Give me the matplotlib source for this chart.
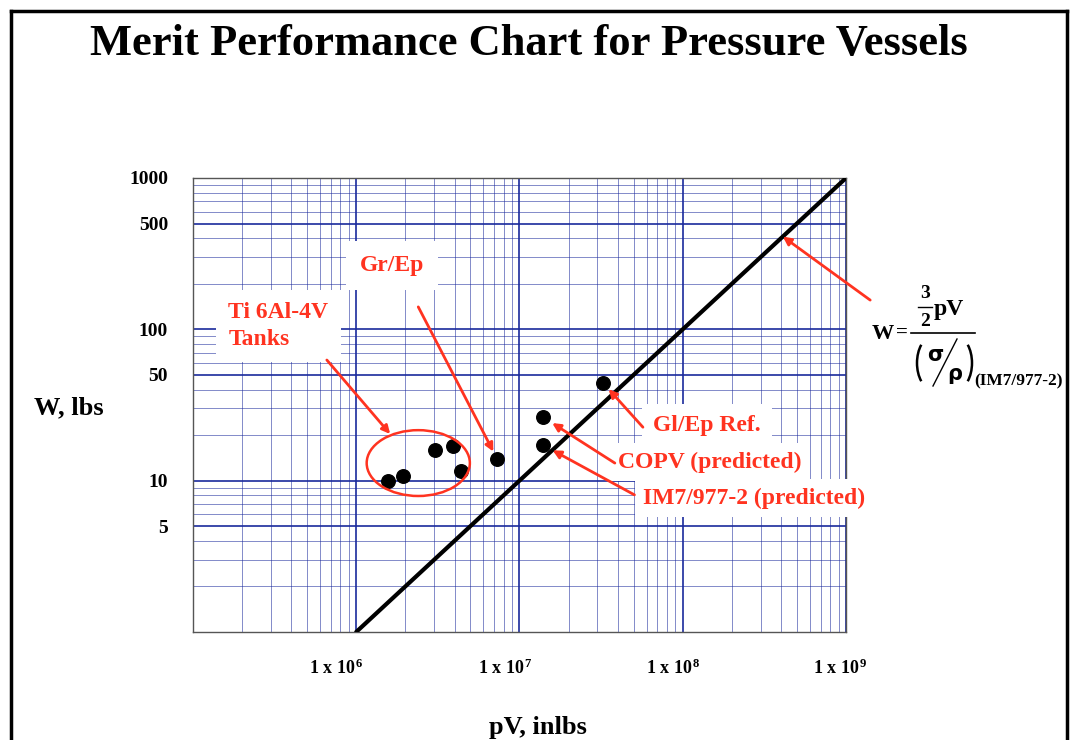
import numpy as np
import matplotlib
matplotlib.use('Agg')
import matplotlib.pyplot as plt
from matplotlib.patches import Ellipse, Arc
from matplotlib.lines import Line2D
from matplotlib.transforms import ScaledTranslation

plt.rcParams['font.family'] = ['Liberation Serif', 'DejaVu Serif']
plt.rcParams['font.weight'] = 'bold'
plt.rcParams['mathtext.fontset'] = 'custom'
plt.rcParams['mathtext.rm'] = 'Liberation Serif:bold'
plt.rcParams['mathtext.it'] = 'Liberation Serif:bold'
plt.rcParams['mathtext.bf'] = 'Liberation Serif:bold'

# data
ti_pv = [1.56e6, 1.93e6, 3.04e6, 3.92e6, 4.38e6]
ti_w = [9.9, 10.7, 15.9, 16.9, 11.6]
grep_pv, grep_w = 7.3e6, 13.9
copv_pv, copv_w = 1.39e7, 26.3
im7_pv, im7_w = 1.39e7, 17.2
glep_pv, glep_w = 3.25e7, 44.2

# merit line  W = 1.5 pV / (sigma/rho)
sigma_rho = 1.5e6
line_pv = np.array([1.0e6, 1.0e9])
line_w = 1.5 * line_pv / sigma_rho
arrow_pv = 4.1e8

xticks = [1e6, 1e7, 1e8, 1e9]
xlabels = [r'$\mathrm{1\ x\ 10^{6}}$', r'$\mathrm{1\ x\ 10^{7}}$',
           r'$\mathrm{1\ x\ 10^{8}}$', r'$\mathrm{1\ x\ 10^{9}}$']
yticks = [5, 10, 50, 100, 500, 1000]

red = '#ff3320'
grid_dark = '#1a2a9c'
grid_light = '#9aa0c8'

fig = plt.figure(figsize=(10.75, 7.4), dpi=100)
ax = fig.add_axes([0.1795, 0.146, 0.6075, 0.6135])
ax.set_xscale('log')
ax.set_yscale('log')
ax.set_xlim(1e5, 1e9)
ax.set_ylim(1, 1000)

ax.grid(True, which='minor', color=grid_light, lw=1.3)
ax.grid(True, which='major', color=grid_dark, lw=1.2)
ax.grid(True, which='minor', axis='both', color=grid_dark, lw=0.7, alpha=0.55)
ax.set_axisbelow(True)
for s in ax.spines.values():
    s.set_color('#555555')
    s.set_linewidth(1)

ax.set_xticks(xticks)
ax.set_xticklabels(xlabels, fontsize=13)
ax.set_yticks(yticks)
ax.set_yticklabels([str(v) for v in yticks], fontsize=14, fontweight='bold')
ax.tick_params(which='both', length=0)
ax.tick_params(axis='x', pad=19)
ax.tick_params(axis='y', pad=18)
# the slide's labels sit a little left of their grid lines
for lab, dx in zip(ax.get_xticklabels(), [-20, -14, -10, -6]):
    lab.set_transform(lab.get_transform() + ScaledTranslation(dx / 100, 0, fig.dpi_scale_trans))

ax.plot(line_pv, line_w, color='black', lw=3, solid_capstyle='round', zorder=3)

ax.scatter(ti_pv, ti_w, s=95, color='black', zorder=4)
ax.scatter([grep_pv, copv_pv, im7_pv, glep_pv], [grep_w, copv_w, im7_w, glep_w],
           s=95, color='black', zorder=4)

ax.add_patch(Ellipse((0.345, 0.372), 0.158, 0.145, transform=ax.transAxes,
                     fill=False, edgecolor=red, lw=1.8, zorder=5))

box = dict(facecolor='white', edgecolor='none', pad=6)
tkw = dict(color=red, fontsize=17, fontweight='bold', transform=ax.transAxes,
           va='center', ha='left', zorder=6)
ax.text(0.054, 0.674, 'Ti 6Al-4V\nTanks', linespacing=1.35,
        bbox=dict(facecolor='white', edgecolor='none', pad=9), **tkw)
ax.text(0.256, 0.808, 'Gr/Ep', bbox=dict(facecolor='white', edgecolor='none', pad=10), **tkw)
ax.text(0.705, 0.455, 'Gl/Ep Ref.', bbox=dict(facecolor='white', edgecolor='none', pad=8), **tkw)
ax.text(0.651, 0.374, 'COPV (predicted)', bbox=box, **tkw)
ax.text(0.689, 0.295, 'IM7/977-2 (predicted)', bbox=box, **tkw)

ap = dict(arrowstyle='-|>', color=red, lw=2, mutation_scale=12, shrinkA=0)
ax.annotate('', xy=(0.302, 0.436), xycoords='axes fraction',
            xytext=(0.205, 0.599), textcoords='axes fraction',
            arrowprops=dict(ap, shrinkB=0), zorder=7)
ax.annotate('', xy=(grep_pv, grep_w), xycoords='data',
            xytext=(0.345, 0.716), textcoords='axes fraction',
            arrowprops=dict(ap, shrinkB=6), zorder=7)
ax.annotate('', xy=(glep_pv, glep_w), xycoords='data',
            xytext=(0.689, 0.451), textcoords='axes fraction',
            arrowprops=dict(ap, shrinkB=6), zorder=7)
ax.annotate('', xy=(copv_pv, copv_w), xycoords='data',
            xytext=(0.646, 0.372), textcoords='axes fraction',
            arrowprops=dict(ap, shrinkB=8), zorder=7)
ax.annotate('', xy=(im7_pv, im7_w), xycoords='data',
            xytext=(0.676, 0.302), textcoords='axes fraction',
            arrowprops=dict(ap, shrinkB=8), zorder=7)
ax.annotate('', xy=(arrow_pv, 1.5 * arrow_pv / sigma_rho), xycoords='data',
            xytext=(1.037, 0.731), textcoords='axes fraction',
            arrowprops=dict(ap, shrinkB=0), zorder=7, annotation_clip=False)


# formula W = (3/2 pV) / (sigma/rho), built from pieces in figure pixels
def fx(px):
    return px / 1075


def fy(py):
    return 1 - py / 740


fkw = dict(fontweight='bold', va='center')
fig.text(fx(872), fy(334), 'W', fontsize=16, ha='left', **fkw)
fig.text(fx(896), fy(333), '=', fontsize=15, ha='left', **fkw)
fig.add_artist(Line2D([fx(911), fx(975)], [fy(333), fy(333)], color='black', lw=1.2))
fig.text(fx(925), fy(294), '3', fontsize=14, ha='center', **fkw)
fig.add_artist(Line2D([fx(918), fx(932)], [fy(307), fy(307)], color='black', lw=1))
fig.text(fx(925), fy(321), '2', fontsize=14, ha='center', **fkw)
fig.text(fx(934), fy(310), 'pV', fontsize=17, ha='left', **fkw)
# parentheses drawn as arcs
fig.add_artist(Arc((fx(932), fy(363)), fx(30), 52 / 740, theta1=112, theta2=248,
                   transform=fig.transFigure, color='black', lw=1.8))
fig.add_artist(Arc((fx(957), fy(363)), fx(30), 52 / 740, theta1=-68, theta2=68,
                   transform=fig.transFigure, color='black', lw=1.8))
fig.text(fx(935), fy(355), 'σ', fontsize=15, family='DejaVu Sans', ha='center', va='center')
fig.text(fx(955), fy(374), 'ρ', fontsize=15, family='DejaVu Sans', ha='center', va='center')
fig.add_artist(Line2D([fx(933), fx(957)], [fy(386), fy(339)], color='black', lw=1))
fig.text(fx(974), fy(381), '(IM7/977-2)', fontsize=12.5, ha='left', **fkw)

fig.text(0.492, 0.941, 'Merit Performance Chart for Pressure Vessels',
         fontsize=32, fontweight='bold', ha='center', va='center')
fig.text(0.064, 0.449, 'W, lbs', fontsize=19, fontweight='bold', ha='center', va='center')
fig.text(0.5, 0.017, 'pV, inlbs', fontsize=19, fontweight='bold', ha='center', va='center')

# slide frame
fig.add_artist(Line2D([0.010, 0.010], [0.0, 0.985], color='black', lw=2.5))
fig.add_artist(Line2D([0.010, 0.993], [0.985, 0.985], color='black', lw=2.5))
fig.add_artist(Line2D([0.993, 0.993], [0.0, 0.985], color='black', lw=2.5))

fig.savefig('out.png', dpi=100)
